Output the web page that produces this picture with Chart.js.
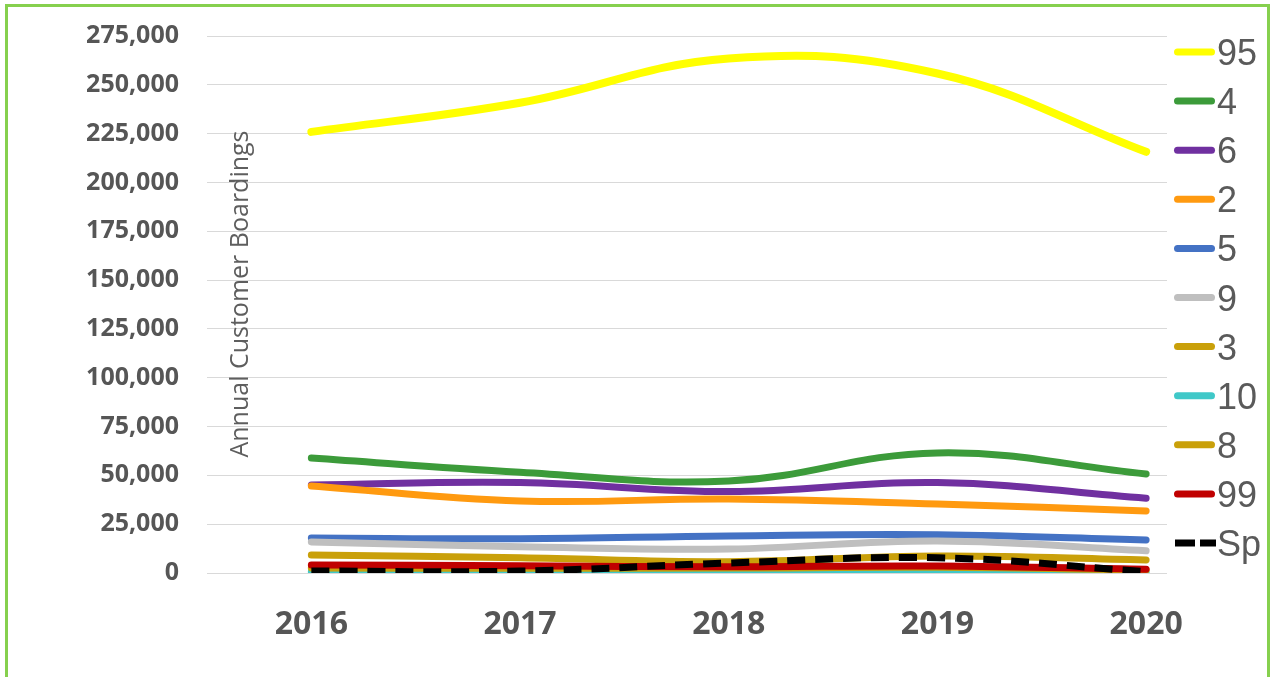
<!DOCTYPE html>
<html>
<head>
<meta charset="utf-8">
<title>Annual Customer Boardings by Route</title>
<script src="https://cdn.jsdelivr.net/npm/chart.js@4/dist/chart.umd.min.js"></script>
<style>
  html, body { margin: 0; padding: 0; background: #fff; overflow: hidden; }
  #wrap { position: relative; width: 1272px; height: 677px; overflow: hidden; }
  #frame {
    position: absolute; left: 5px; top: 4px; width: 1265px; height: 720px;
    border: 3px solid #86d04e; box-sizing: border-box; pointer-events: none;
  }
  #chart { position: absolute; left: 0; top: 0; }
</style>
</head>
<body>
<div id="wrap">
  <canvas id="chart" width="1272" height="677"></canvas>
  <div id="frame"></div>
</div>
<script>
// Years on the x axis
const years = [2016, 2017, 2018, 2019, 2020];

// Annual customer boardings per route
const route95 = [225900, 240800, 263500, 255800, 215700];
const route4  = [58900, 51600, 47100, 61500, 50700];
const route6  = [45100, 46300, 41700, 46300, 38300];
const route2  = [44600, 36900, 37900, 35300, 31800];
const route5  = [17900, 17600, 19000, 19600, 16900];
const route9  = [15900, 13500, 12300, 16400, 11400];
const route3  = [9200, 7800, 5800, 8700, 6700];
const route10 = [600, 500, 500, 700, 400];
const route8  = [2600, 2400, 2500, 2900, 1500];
const route99 = [4100, 3700, 3200, 3600, 1900];
const routeSp = [1000, 1000, 5100, 7800, 700];

const routeNames = ['95', '4', '6', '2', '5', '9', '3', '10', '8', '99', 'Sp'];
const routeValues = [route95, route4, route6, route2, route5, route9, route3, route10, route8, route99, routeSp];
const routeColors = ['#FFFF00', '#3C9B3A', '#7030A0', '#FF9A10', '#4472C4', '#BFBFBF',
                     '#C9A00A', '#40C8C8', '#C9A00A', '#C00000', '#000000'];

// y-axis grid step and range
const yMax = 275000;
const yStep = 25000;

const FONT = '"Open Sans", "Liberation Sans", sans-serif';
const TEXT = '#565656';

const datasets = routeNames.map((name, i) => ({
  label: name,
  data: years.map((y, j) => ({ x: y, y: routeValues[i][j] })),
  borderColor: routeColors[i],
  backgroundColor: routeColors[i],
  borderWidth: name === '95' ? 8 : 7,
  borderDash: name === 'Sp' ? [18, 10] : [],
  borderCapStyle: name === 'Sp' ? 'butt' : 'round',
  pointRadius: 0,
  tension: 0.4,
  fill: false,
  // later routes are painted over earlier ones
  order: routeNames.length - i
}));

// Vertical axis title drawn inside the plot, plus the legend at the right
const overlay = {
  id: 'overlay',
  afterDraw(chart) {
    const ctx = chart.ctx;
    ctx.save();
    ctx.translate(248, 294);
    ctx.rotate(-Math.PI / 2);
    ctx.font = '25px ' + FONT;
    ctx.fillStyle = '#5e5e5e';
    ctx.textAlign = 'center';
    ctx.textBaseline = 'alphabetic';
    ctx.fillText('Annual Customer Boardings', 0, 0);
    ctx.restore();

    ctx.save();
    const rowTop = 52, rowGap = 49.1;
    routeNames.forEach((name, i) => {
      const y = rowTop + i * rowGap;
      ctx.strokeStyle = routeColors[i];
      ctx.lineWidth = 7;
      if (name === 'Sp') {
        ctx.lineCap = 'butt';
        ctx.beginPath();
        ctx.moveTo(1175, y); ctx.lineTo(1195, y);
        ctx.moveTo(1200, y); ctx.lineTo(1216, y);
        ctx.stroke();
      } else {
        ctx.lineCap = 'round';
        ctx.beginPath();
        ctx.moveTo(1177.5, y); ctx.lineTo(1211.5, y);
        ctx.stroke();
      }
      ctx.font = '36px "Liberation Sans", Arial, sans-serif';
      ctx.fillStyle = '#5a5a5a';
      ctx.textAlign = 'left';
      ctx.textBaseline = 'alphabetic';
      ctx.fillText(name, 1217, y + 13);
    });
    ctx.restore();
  }
};

new Chart(document.getElementById('chart'), {
  type: 'line',
  data: { datasets },
  options: {
    responsive: false,
    animation: false,
    devicePixelRatio: 1,
    layout: { padding: { left: 0, top: 36, right: 105, bottom: 0 } },
    plugins: { legend: { display: false }, tooltip: { enabled: false } },
    scales: {
      x: {
        type: 'linear',
        min: years[0] - 0.5,
        max: years[years.length - 1] + 0.1,
        grid: { display: false, drawTicks: false },
        border: { display: false },
        afterBuildTicks(scale) { scale.ticks = years.map(v => ({ value: v })); },
        afterFit(scale) { scale.height = 104; },
        ticks: {
          autoSkip: false,
          maxRotation: 0,
          padding: 33,
          color: TEXT,
          font: { family: FONT, size: 32, weight: 'bold' },
          callback: v => String(v)
        }
      },
      y: {
        min: 0,
        max: yMax,
        grid: { color: '#d9d9d9', lineWidth: 1, drawTicks: false },
        border: { display: false },
        afterFit(scale) {
          scale.width = 207;
          scale.paddingTop = 0;
          scale.paddingBottom = 0;
        },
        ticks: {
          stepSize: yStep,
          padding: 28,
          color: TEXT,
          font: { family: FONT, size: 25, weight: 'bold' },
          callback: v => v.toLocaleString('en-US')
        }
      }
    }
  },
  plugins: [overlay]
});
</script>
</body>
</html>
